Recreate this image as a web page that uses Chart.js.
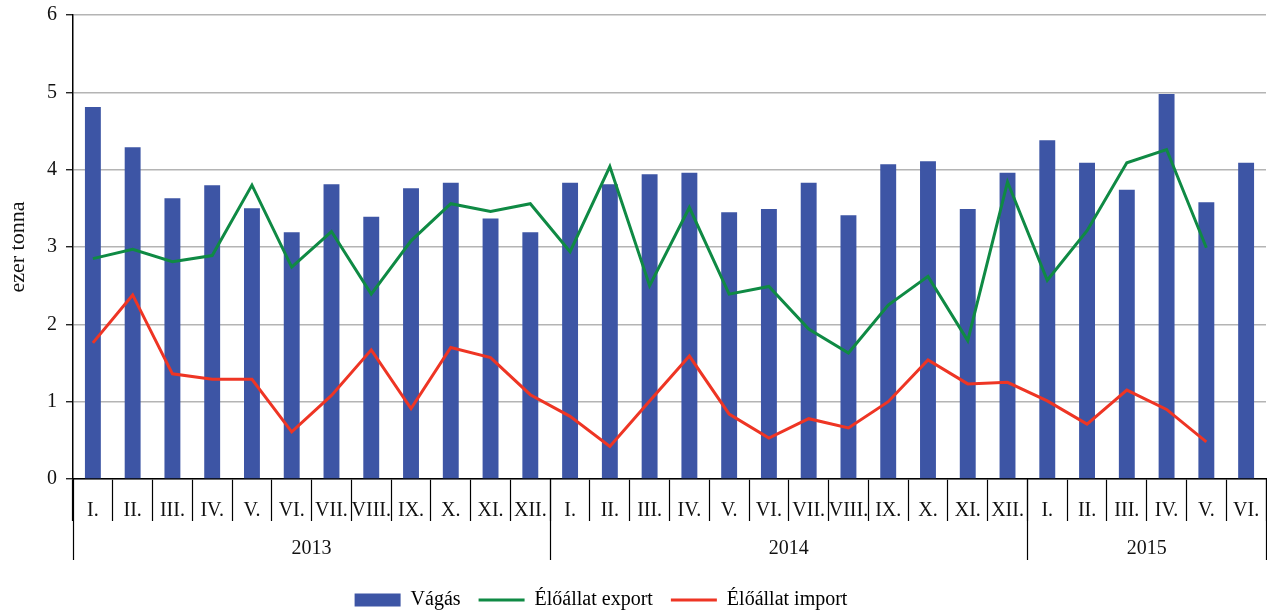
<!DOCTYPE html>
<html>
<head>
<meta charset="utf-8">
<script src="https://cdn.jsdelivr.net/npm/chart.js@4/dist/chart.umd.min.js"></script>
<style>
  html, body { margin: 0; padding: 0; background: #fff; }
  #wrap { width: 1267px; height: 612px; }
</style>
</head>
<body>
<div id="wrap"><canvas id="ch"></canvas></div>
<script>
  // honapok (2013 I. - 2015 VI.)
  var HONAPOK = ['I.', 'II.', 'III.', 'IV.', 'V.', 'VI.', 'VII.', 'VIII.', 'IX.', 'X.', 'XI.', 'XII.',
    'I.', 'II.', 'III.', 'IV.', 'V.', 'VI.', 'VII.', 'VIII.', 'IX.', 'X.', 'XI.', 'XII.',
    'I.', 'II.', 'III.', 'IV.', 'V.', 'VI.'];
  var EVEK = ['2013', '2014', '2015'];
  var EV_HATAR = [0, 12, 24, 30]; // honap indexek ahol uj ev kezdodik

  var VAGAS = [4.81, 4.29, 3.63, 3.80, 3.50, 3.19, 3.81, 3.39, 3.76, 3.83, 3.37, 3.19,
    3.83, 3.81, 3.94, 3.96, 3.45, 3.49, 3.83, 3.41, 4.07, 4.11, 3.49, 3.96,
    4.38, 4.09, 3.74, 4.98, 3.58, 4.09];
  var EXPORT = [2.85, 2.97, 2.81, 2.89, 3.80, 2.74, 3.20, 2.39, 3.08, 3.56, 3.46, 3.56,
    2.94, 4.04, 2.50, 3.51, 2.39, 2.49, 1.94, 1.63, 2.25, 2.62, 1.79, 3.84,
    2.57, 3.21, 4.09, 4.26, 2.99, null];
  var IMPORT = [1.76, 2.38, 1.36, 1.29, 1.29, 0.61, 1.08, 1.67, 0.91, 1.70, 1.57, 1.09,
    0.81, 0.42, 1.01, 1.59, 0.84, 0.53, 0.78, 0.66, 1.00, 1.54, 1.23, 1.25,
    1.01, 0.71, 1.15, 0.90, 0.48, null];

  var KEK = '#3d55a5';
  var ZOLD = '#0f8a44';
  var PIROS = '#ee3524';
  var BETU = 'Liberation Serif, Times New Roman, serif';

  Chart.defaults.font.family = BETU;
  Chart.defaults.font.size = 20;
  Chart.defaults.color = '#111';

  // evszamok + hosszu elvalaszto vonalak az x tengely alatt
  var evPlugin = {
    id: 'evek',
    afterLayout: function (chart) {
      // a jelmagyarazat kicsit balra es lejjebb, mint az eredetin
      var lg = chart.legend;
      lg.left -= 32; lg.right -= 32;
      lg.top += 8; lg.bottom += 8;
    },
    afterDraw: function (chart) {
      var x = chart.scales.x, ctx = chart.ctx;
      function hatar(i) {
        if (i <= 0) return x.left;
        if (i >= HONAPOK.length) return x.right;
        return (x.getPixelForValue(i - 1) + x.getPixelForValue(i)) / 2;
      }
      ctx.save();
      ctx.strokeStyle = '#000';
      ctx.lineWidth = 1.2;
      EV_HATAR.forEach(function (i) {
        var px = Math.round(hatar(i)) + 0.5;
        ctx.beginPath();
        ctx.moveTo(px, x.top);
        ctx.lineTo(px, x.top + 81);
        ctx.stroke();
      });
      ctx.fillStyle = '#111';
      ctx.font = '20px ' + BETU;
      ctx.textAlign = 'center';
      ctx.textBaseline = 'middle';
      EVEK.forEach(function (ev, k) {
        var cx = (hatar(EV_HATAR[k]) + hatar(EV_HATAR[k + 1])) / 2;
        ctx.fillText(ev, cx, x.top + 70);
      });
      ctx.restore();
    }
  };

  new Chart(document.getElementById('ch'), {
    type: 'bar',
    data: {
      labels: HONAPOK,
      datasets: [
        { label: 'Vágás', data: VAGAS, backgroundColor: KEK, barPercentage: 0.4, categoryPercentage: 1, order: 3 },
        { type: 'line', label: 'Élőállat export', data: EXPORT, borderColor: ZOLD, borderWidth: 3,
          pointRadius: 0, tension: 0, fill: false, order: 2 },
        { type: 'line', label: 'Élőállat import', data: IMPORT, borderColor: PIROS, borderWidth: 3,
          pointRadius: 0, tension: 0, fill: false, order: 1 }
      ]
    },
    options: {
      responsive: true,
      maintainAspectRatio: false,
      animation: false,
      layout: { padding: { top: 0, right: 1, left: 0, bottom: 0 } },
      plugins: {
        tooltip: { enabled: false },
        legend: {
          position: 'bottom',
          labels: {
            usePointStyle: true,
            pointStyleWidth: 46,
            boxHeight: 13,
            padding: 18,
            font: { size: 20, family: BETU },
            generateLabels: function (chart) {
              return chart.data.datasets.map(function (ds, i) {
                var vonal = ds.type === 'line';
                return {
                  text: ds.label,
                  datasetIndex: i,
                  fillStyle: vonal ? ds.borderColor : ds.backgroundColor,
                  strokeStyle: vonal ? ds.borderColor : ds.backgroundColor,
                  lineWidth: vonal ? 3 : 0,
                  pointStyle: vonal ? 'line' : 'rect',
                  hidden: false
                };
              });
            }
          }
        }
      },
      scales: {
        x: {
          offset: true,
          grid: { display: true, drawOnChartArea: false, drawTicks: true, tickLength: 42, tickColor: '#000', tickWidth: 1.2, offset: true },
          border: { display: true, color: '#000', width: 1.5 },
          ticks: { autoSkip: false, maxRotation: 0, minRotation: 0, padding: -22, color: '#111', font: { size: 20, family: BETU } },
          afterFit: function (s) { s.height = 85; }
        },
        y: {
          min: 0,
          max: 6,
          ticks: { stepSize: 1, padding: 9, color: '#111', font: { size: 20, family: BETU, lineHeight: 0.6 } },
          grid: { color: '#b4b4b4', lineWidth: 1.5, tickLength: 7, tickColor: '#000', tickWidth: 1.2 },
          border: { display: true, color: '#000', width: 1.5 },
          title: { display: true, text: 'ezer tonna', color: '#111', font: { size: 22, family: BETU }, padding: { top: 5, bottom: 0 } },
          afterFit: function (s) { s.width = 73; }
        }
      }
    },
    plugins: [evPlugin]
  });
</script>
</body>
</html>
